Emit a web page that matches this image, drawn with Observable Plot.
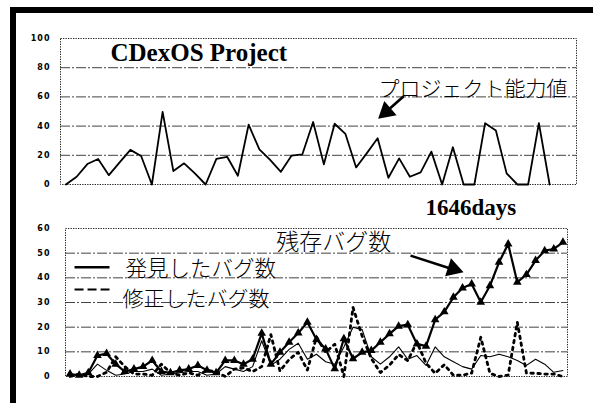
<!DOCTYPE html>
<html><head><meta charset="utf-8">
<script src="https://cdn.jsdelivr.net/npm/d3@7"></script>
<script src="https://cdn.jsdelivr.net/npm/@observablehq/plot@0.6"></script>
<style>
body{margin:0;background:#fff;}
#wrap{position:relative;width:593px;height:403px;overflow:hidden;background:#fff;}
#wrap svg{position:absolute;left:0;overflow:visible;}
#wrap svg [aria-label="y-axis tick label"]{letter-spacing:1px;}
.bar{position:absolute;background:#000;}
</style></head><body>
<div id="wrap">
<div class="bar" style="left:10px;top:7px;width:6px;height:396px"></div>
<div class="bar" style="left:10px;top:7px;width:583px;height:6px"></div>
</div>
<script>
// ---- data ----
const abilityValues = [0, 5.3, 14, 17.5, 6.4, 15.2, 23.7, 19.5, 0, 49.7, 9.2, 14.5, 7.6, 0, 17.5, 19, 6, 41, 24, 16.8, 8.7, 19.8, 20.7, 42.8, 13.8, 41.6, 34.7, 11.7, 21.5, 31.7, 4.6, 17.9, 5.3, 8.3, 22.5, 0, 25.5, 0, 0, 42, 37, 7.6, 0, 0, 42, 0];
const abilityTicks = [0, 20, 40, 60, 80, 100];
const abilityGrid = [20, 40, 60, 80];

const foundBugs = [0.5, 0.5, 1, 5, 2.5, 0.5, 1, 2, 2, 3, 0.5, 1, 1.5, 2, 2, 0.5, 1, 4, 3, 2, 4, 14.5, 4.5, 7, 11, 13.5, 7, 9, 6, 5, 12, 20, 19, 8, 5, 8, 12, 7, 8.5, 4.5, 12, 8, 6, 4, 3, 8.5, 8, 9, 8, 6.5, 4.5, 7, 5, 1.7, 2.4];
const fixedBugs = [0, 1, 0, 0, 1.7, 8, 4, 1, 1, 0.5, 5, 1.5, 0.5, 1.5, 0.5, 2.5, 2, 0, 3, 3.5, 2, 4, 17, 2.2, 6.9, 9.8, 2.6, 16, 9.8, 13.1, 0, 28, 16.4, 7.3, 1.6, 4.6, 8.9, 6.4, 14, 5.4, 1.3, 4.8, 0.5, 0.5, 1.4, 15.9, 1.3, 0, 0.6, 22, 1.4, 1.3, 1, 1, 0];
const remainingBugs = [1, 0.5, 1.5, 8.5, 9.3, 5, 2, 3, 4, 6.5, 2, 1.5, 2.5, 3, 4.5, 2.5, 1.5, 6.5, 6.5, 5, 7, 17.5, 5, 9.8, 13.9, 17.6, 22, 15, 11.2, 3.1, 15.3, 7.2, 9.8, 10.5, 13.9, 17.3, 20.4, 21, 13.2, 12.3, 23, 26.2, 32.1, 35.9, 37.5, 30.1, 36.8, 46.3, 53.7, 38.2, 41.3, 47, 51, 51.7, 54.4];
const bugTicks = [0, 10, 20, 30, 40, 50, 60];
const bugGrid = [10, 20, 30, 40, 50];

const titleText = "CDexOS Project";
const abilityLabel = "プロジェクト能力値";
const daysLabel = "1646days";
const remainingLabel = "残存バグ数";
const foundLabel = "発見したバグ数";
const fixedLabel = "修正したバグ数";

const idx = (d, i) => i;
const val = d => d;
const jp = "Noto Sans CJK JP";
const serif = "Liberation Serif";
const axisStyle = {background: "transparent", fontFamily: "DejaVu Sans", fontSize: "8px", fontWeight: "bold", color: "#000", overflow: "visible"};
const gridDash = "10,2,2,2";

// ---- top chart ----
const topChart = Plot.plot({
  width: 593, height: 195,
  marginLeft: 60, marginRight: 17, marginTop: 38, marginBottom: 11,
  style: axisStyle,
  x: {domain: [-0.5, 47.5], axis: null},
  y: {domain: [0, 100], ticks: abilityTicks, tickSize: 0, tickPadding: 10, label: null},
  marks: [
    Plot.ruleY(abilityGrid, {stroke: "#444", strokeWidth: 1, strokeDasharray: gridDash}),
    Plot.frame({stroke: "#222", strokeDasharray: "1.3,1.2"}),
    Plot.lineY(abilityValues, {x: idx, y: val, stroke: "#000", strokeWidth: 1.8}),
    Plot.text([titleText], {x: 4.15, y: 90.4, text: d => d, textAnchor: "start", fontFamily: serif, fontWeight: "bold", fontSize: 25, fill: "#000"}),
    Plot.text([abilityLabel], {x: 29.08, y: 65.2, text: d => d, textAnchor: "start", fontFamily: jp, fontWeight: 300, fontSize: 21, fill: "#000"}),
    Plot.link([0], {x1: 31.4, y1: 60.3, x2: 29.9, y2: 50.5, stroke: "#000", strokeWidth: 2.6}),
    Plot.dot([0], {x: 29.81, y: 49.9, symbol: "triangle", r: 7, rotate: 229, fill: "#000", stroke: "none"})
  ]
});
topChart.style.top = "0px";

// ---- bottom chart ----
const bottomChart = Plot.plot({
  width: 593, height: 188,
  marginLeft: 65, marginRight: 26, marginTop: 28, marginBottom: 12,
  style: axisStyle,
  x: {domain: [-0.5, 54.5], axis: null},
  y: {domain: [0, 60], ticks: bugTicks, tickSize: 0, tickPadding: 15, label: null},
  marks: [
    Plot.ruleY(bugGrid, {stroke: "#444", strokeWidth: 1, strokeDasharray: gridDash}),
    Plot.frame({stroke: "#222", strokeDasharray: "1.3,1.2"}),
    Plot.lineY(fixedBugs, {x: idx, y: val, stroke: "#000", strokeWidth: 2.8, strokeDasharray: "2.5,4.5"}),
    Plot.lineY(foundBugs, {x: idx, y: val, stroke: "#000", strokeWidth: 1.1}),
    Plot.lineY(remainingBugs, {x: idx, y: val, stroke: "#000", strokeWidth: 2.2}),
    Plot.dot(remainingBugs, {x: idx, y: val, symbol: "triangle", r: 3.2, fill: "#000", stroke: "none"}),
    // legend
    Plot.link([0], {x1: 0.49, y1: 44.3, x2: 4.32, y2: 44.3, stroke: "#000", strokeWidth: 2.5}),
    Plot.link([0], {x1: 0.49, y1: 35.3, x2: 4.32, y2: 35.3, stroke: "#000", strokeWidth: 2, strokeDasharray: "9,4"}),
    Plot.text([foundLabel], {x: 6.07, y: 43.7, text: d => d, textAnchor: "start", fontFamily: jp, fontWeight: 300, fontSize: 21.5, fill: "#000"}),
    Plot.text([fixedLabel], {x: 5.75, y: 31.5, text: d => d, textAnchor: "start", fontFamily: jp, fontWeight: 300, fontSize: 21, fill: "#000"}),
    // annotations
    Plot.text([remainingLabel], {x: 22.6, y: 54.2, text: d => d, textAnchor: "start", fontFamily: jp, fontWeight: 300, fontSize: 23, fill: "#000"}),
    Plot.text([daysLabel], {x: 38.94, y: 68.3, text: d => d, textAnchor: "start", fontFamily: serif, fontWeight: "bold", fontSize: 23, fill: "#000"}),
    Plot.link([0], {x1: 37.3, y1: 49.0, x2: 41.5, y2: 44.0, stroke: "#000", strokeWidth: 2.6}),
    Plot.dot([0], {x: 41.98, y: 43.6, symbol: "triangle", r: 7, rotate: 108, fill: "#000", stroke: "none"})
  ]
});
bottomChart.style.top = "200px";

const wrap = document.getElementById("wrap");
wrap.appendChild(topChart);
wrap.appendChild(bottomChart);
</script>
</body></html>
